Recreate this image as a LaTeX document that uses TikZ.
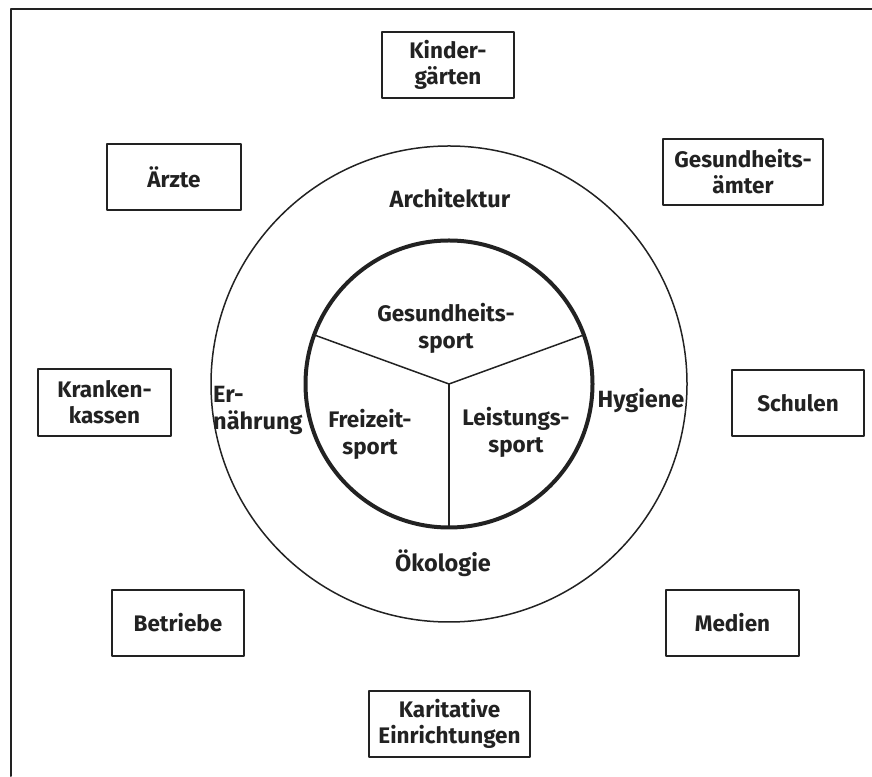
\documentclass[tikz,border=0pt]{standalone}
\usepackage{fontspec}
\setmainfont{Fira Sans}
\definecolor{tinte}{HTML}{222222}

\begin{document}
\begin{tikzpicture}[line cap=round,line join=round,x=1pt,y=1pt,color=tinte,
  feld/.style={draw, line width=2pt, minimum width=132, minimum height=66, inner sep=0pt, align=center, font=\bfseries\fontsize{22.5}{26}\selectfont},
  zone/.style={inner sep=0pt, font=\bfseries\fontsize{23.5}{27}\selectfont},
  sektor/.style={inner sep=0pt, align=center, font=\bfseries\fontsize{22.5}{27}\selectfont}]
\useasboundingbox (0,0) rectangle (872,776);
% rahmen (nur oben und links sichtbar)
\draw [line width=2pt] (11,0)--(11,767)--(872,767);
% ringe
\coordinate (mitte) at (449,392);
\draw [line width=1.5pt] (mitte) circle (238);
\draw [line width=4pt] (mitte) circle (143.5);
\begin{scope}[shift={(449,392)}]
\draw [line width=1.5pt] (0,0)--(20:143.5);
\draw [line width=1.5pt] (0,0)--(160:143.5);
\draw [line width=1.5pt] (0,0)--(270:143.5);
\end{scope}
% sportarten
\node[sektor] (gsport) at (446,448) {Gesundheits-\\sport};
\node[sektor] (fsport) at (370,342) {Freizeit-\\sport};
\node[sektor] (lsport) at (516,344) {Leistungs-\\sport};
% aeusserer ring
\node[zone, anchor=base] (archi) at (450,568) {Architektur};
\node[zone, anchor=base] (oeko) at (443,204) {Ökologie};
\node[zone, anchor=base] (hyg) at (641,368) {Hygiene};
\node[zone, anchor=west, align=left] (ern) at (213,366) {Er-\\nährung};
% einrichtungen
\node[feld] (kiga) at (448,711) {Kinder-\\gärten};
\node[feld, minimum width=134] (aerzte) at (174,599) {Ärzte};
\node[feld, minimum width=160] (gamt) at (743,604) {Gesundheits-\\ämter};
\node[feld, minimum width=133, minimum height=67] (kasse) at (104.5,373.5) {Kranken-\\kassen};
\node[feld] (schule) at (798,373) {Schulen};
\node[feld] (betrieb) at (178,153) {Betriebe};
\node[feld, minimum width=133] (medien) at (732.5,153) {Medien};
\node[feld, minimum width=161] (karit) at (449.5,52) {Karitative\\Einrichtungen};
\end{tikzpicture}
\end{document}
